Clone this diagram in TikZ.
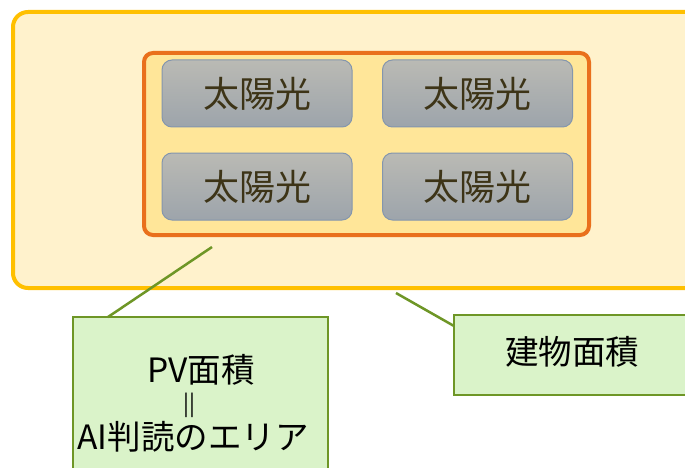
\documentclass[tikz,border=0pt]{standalone}
\usepackage{fontspec}
\newfontfamily\jp{Noto Sans CJK JP}
\definecolor{bldfill}{HTML}{FFF2CC}
\definecolor{bldline}{HTML}{FFC000}
\definecolor{pvfill}{HTML}{FFE699}
\definecolor{pvline}{HTML}{E9701C}
\definecolor{paneltop}{HTML}{BABAB4}
\definecolor{panelbot}{HTML}{9DA4AB}
\definecolor{panelline}{HTML}{8496AD}
\definecolor{paneltext}{HTML}{3D3417}
\definecolor{callfill}{HTML}{DAF3C9}
\definecolor{callline}{HTML}{6E9626}
\begin{document}
\begin{tikzpicture}[x=1pt,y=-1pt,
  box/.style={rectangle,inner sep=0pt,outer sep=0pt},
  panel/.style={box,rounded corners=10pt,draw=panelline,line width=1pt,
    top color=paneltop,bottom color=panelbot,minimum width=190pt,minimum height=67pt,
    font=\jp\fontsize{36}{42}\selectfont,text=paneltext},
  callout/.style={box,draw=callline,line width=2.5pt,fill=callfill},
  leader/.style={draw=callline,line width=2.5pt},
  calltext/.style={font=\jp\fontsize{33.5}{40}\selectfont,text=black,inner sep=0pt}]
\useasboundingbox (0,0) rectangle (685,468);
\clip (0,0) rectangle (685,468);
\fill[white] (0,0) rectangle (685,468);
\node[box,draw=bldline,line width=4pt,fill=bldfill,rounded corners=15pt,
  minimum width=707pt,minimum height=276pt] (building) at (366.5,150) {};
\node[box,draw=pvline,line width=4pt,fill=pvfill,rounded corners=9pt,
  minimum width=445pt,minimum height=182pt] (pvarea) at (366.5,144) {};
\node[panel] (p1) at (257,93.5) {太陽光};
\node[panel] (p2) at (477.5,93.5) {太陽光};
\node[panel] (p3) at (257,186.5) {太陽光};
\node[panel] (p4) at (477.5,186.5) {太陽光};
\node[callout,minimum width=255pt,minimum height=184pt] (c1) at (200.5,409) {};
\node[callout,minimum width=276pt,minimum height=80pt] (c2) at (592,355) {};
\node[calltext] (t1) at (201,370) {PV面積};
\node[calltext,font=\jp\fontsize{22}{26}\selectfont] (t2) at (189,405) {||};
\node[calltext] (t3) at (193,437) {AI判読のエリア};
\node[calltext] (t4) at (572,352) {建物面積};
\coordinate (pvpt) at (212,247);
\coordinate (bldpt) at (396,293);
\draw[leader] (pvpt) -- (c1.north west -| 108,0);
\draw[leader] (bldpt) -- (c2.west |- 0,326);
\end{tikzpicture}
\end{document}
